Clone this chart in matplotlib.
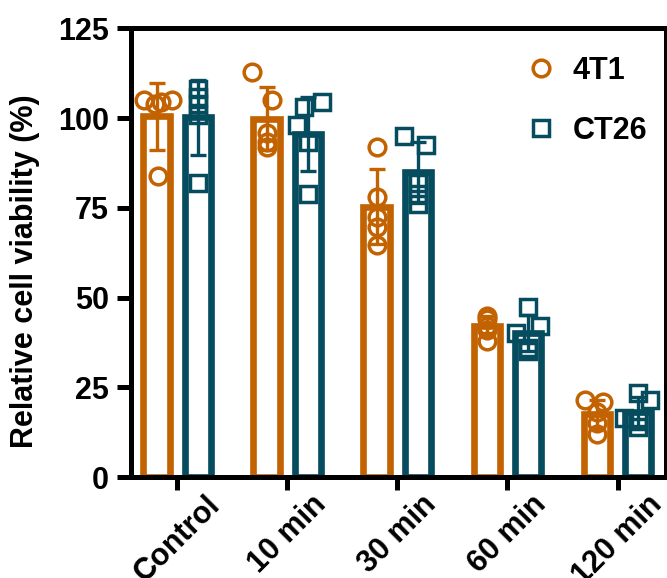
import numpy as np
import matplotlib
matplotlib.use('Agg')
from matplotlib import pyplot as plt

plt.rcParams['font.family'] = ['Liberation Sans', 'DejaVu Sans']
plt.rcParams['font.weight'] = 'bold'

groups = ['Control', '10 min', '30 min', '60 min', '120 min']
series = ['4T1', 'CT26']

# individual replicates
pts_4t1 = [[105, 104, 105, 104.5, 84],
           [113, 105, 96, 93.5, 92],
           [92, 78, 72.5, 69.7, 64.7],
           [45, 44, 42, 41, 38],
           [21.5, 21, 18, 15, 12]]
pts_ct26 = [[108, 106, 104, 101, 82],
            [104.5, 103, 98, 93.5, 79],
            [95, 92.5, 82, 79, 76],
            [47.5, 42, 40, 36, 35],
            [23.5, 21.5, 16.5, 15.5, 14]]

# sideways spread of the dots so they don't sit on top of each other
jit_4t1 = [[-0.11, -0.01, 0.14, 0.04, 0.01],
           [-0.13, 0.05, 0, 0, 0],
           [0, 0, 0, 0, 0],
           [0, 0, 0, 0, 0],
           [-0.11, 0.06, 0, 0, 0]]
jit_ct26 = [[0, 0, 0, 0, 0],
            [0.13, -0.04, -0.1, 0, 0],
            [-0.13, 0.07, 0, 0, 0],
            [0, 0.11, -0.11, 0, 0],
            [0, 0.11, -0.13, 0, 0]]

colors = ['#C26200', '#064C5F']
markers = ['o', 's']

fig = plt.figure(figsize=(6.67, 5.78), dpi=100)
ax = fig.add_axes([0.1964, 0.1747, 0.8021, 0.776])

x = np.arange(len(groups))
off = 0.188
w = 0.24
for k, (pts, jit) in enumerate([(pts_4t1, jit_4t1), (pts_ct26, jit_ct26)]):
    pts = np.array(pts)
    mean = pts.mean(axis=1)
    sd = pts.std(axis=1, ddof=1)
    xs = x + (2 * k - 1) * off
    ax.bar(xs, mean, width=w, color='white', edgecolor=colors[k],
           linewidth=4.8, zorder=2)
    for i in range(len(groups)):
        ax.plot(xs[i] + np.array(jit[i]), pts[i], linestyle='none',
                marker=markers[k], markersize=12, markerfacecolor='none',
                markeredgecolor=colors[k], markeredgewidth=2.5, zorder=3)
    ax.errorbar(xs, mean, yerr=sd, fmt='none', ecolor=colors[k],
                elinewidth=2.4, capsize=6, capthick=2.4, zorder=4)
    ax.plot([], [], linestyle='none', marker=markers[k], markersize=12,
            markerfacecolor='none', markeredgecolor=colors[k],
            markeredgewidth=2.5, label=series[k])

ax.set_xlim(-0.42, 4.44)
ax.set_ylim(0, 125)
ax.set_yticks([0, 25, 50, 75, 100, 125])
ax.set_xticks(x)
ax.set_xticklabels(groups, rotation=45, ha='center', va='top')
for s in ax.spines.values():
    s.set_linewidth(3.6)
ax.tick_params(axis='both', direction='out', width=3.6, labelsize=22)
ax.tick_params(axis='y', length=10, pad=6)
ax.tick_params(axis='x', length=9, pad=0)
ax.set_ylabel('Relative cell viability (%)', fontsize=22, fontweight='bold')
ax.yaxis.set_label_coords(-0.17, 0.46)

ax.legend(loc='upper left', bbox_to_anchor=(498 / 667, 1 - 28 / 578),
          bbox_transform=fig.transFigure, frameon=False, fontsize=22,
          handlelength=1.0, handletextpad=0.55, labelspacing=1.0)

fig.savefig('out.png', dpi=100)
